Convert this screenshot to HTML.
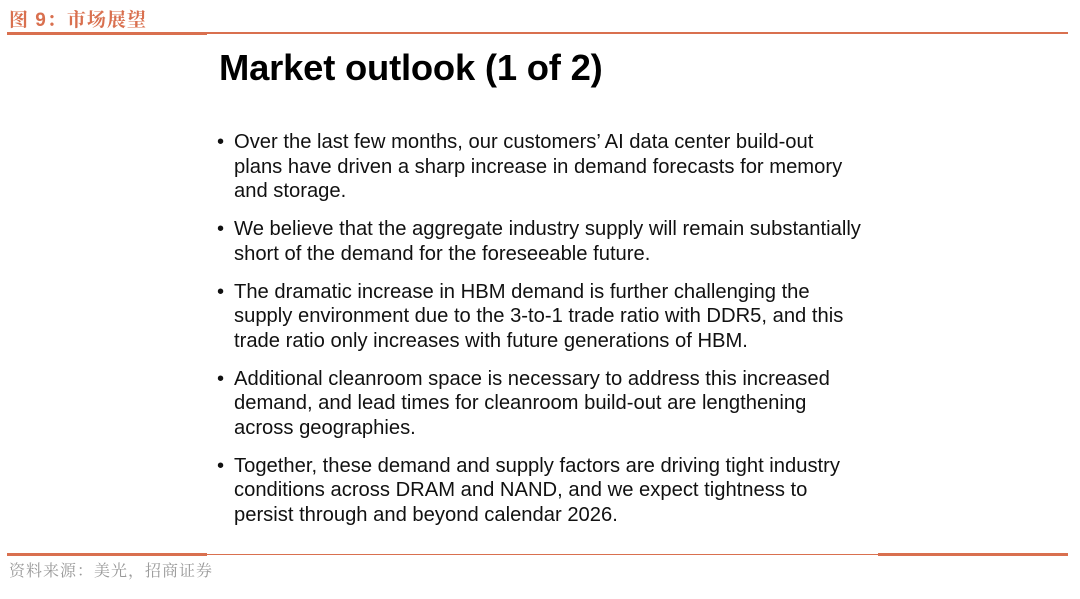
<!DOCTYPE html>
<html><head><meta charset="utf-8"><style>
html,body{margin:0;padding:0;background:#fff;}
body{width:1080px;height:599px;position:relative;overflow:hidden;font-family:"Liberation Sans","Noto Sans CJK SC",sans-serif;}
.hdr{position:absolute;left:9px;top:5px;font-size:19px;font-weight:bold;color:#d9704f;font-family:"Liberation Sans","Noto Serif CJK SC",serif;letter-spacing:1px;}
.ln{position:absolute;background:#d9704f;}
.src{position:absolute;left:9px;top:558px;font-size:16px;color:#999;font-family:"Noto Serif CJK SC",serif;letter-spacing:1px;}
.title{position:absolute;left:219px;top:47px;font-size:36.4px;font-weight:bold;color:#000;letter-spacing:-0.2px;}
ul{position:absolute;left:217px;top:130px;margin:0;padding:0;list-style:none;width:800px;}
li{position:relative;padding-left:17px;font-size:20.2px;line-height:24.5px;color:#111;margin-bottom:13.6px;white-space:nowrap;}
li::before{content:"•";position:absolute;left:0;top:0;}
</style></head><body>
<div class="hdr">图 9：市场展望</div>
<div class="ln" style="left:7px;top:32px;width:200px;height:3px"></div>
<div class="ln" style="left:207px;top:32px;width:861px;height:2px"></div>
<div class="title">Market outlook (1 of 2)</div>
<ul>
<li>Over the last few months, our customers’ AI data center build-out<br>plans have driven a sharp increase in demand forecasts for memory<br>and storage.</li>
<li>We believe that the aggregate industry supply will remain substantially<br>short of the demand for the foreseeable future.</li>
<li>The dramatic increase in HBM demand is further challenging the<br>supply environment due to the 3-to-1 trade ratio with DDR5, and this<br>trade ratio only increases with future generations of HBM.</li>
<li>Additional cleanroom space is necessary to address this increased<br>demand, and lead times for cleanroom build-out are lengthening<br>across geographies.</li>
<li>Together, these demand and supply factors are driving tight industry<br>conditions across DRAM and NAND, and we expect tightness to<br>persist through and beyond calendar 2026.</li>
</ul>
<div class="ln" style="left:7px;top:553px;width:200px;height:3px"></div>
<div class="ln" style="left:207px;top:554px;width:671px;height:1px"></div>
<div class="ln" style="left:878px;top:553px;width:190px;height:3px"></div>
<div class="src">资料来源：美光，招商证券</div>
</body></html>
